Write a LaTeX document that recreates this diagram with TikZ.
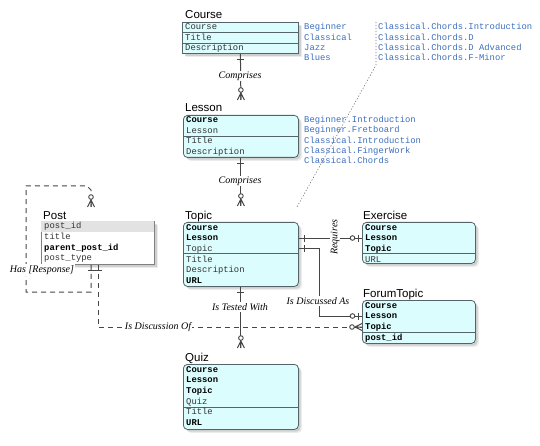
\documentclass[tikz,border=0pt]{standalone}
\usepackage{fontspec}
\setmainfont{Liberation Serif}
\newfontfamily\ttlfont{Liberation Sans}
\newfontfamily\monofont{Liberation Mono}
\usetikzlibrary{shadows,calc}
\definecolor{boxfill}{RGB}{220,253,253}
\definecolor{boxline}{RGB}{85,100,105}
\definecolor{linkc}{RGB}{70,70,70}
\definecolor{bluet}{RGB}{60,110,190}
\definecolor{fieldc}{RGB}{50,50,50}
\definecolor{postrow}{RGB}{226,226,226}
\tikzset{
  ent/.style={draw=boxline, fill=boxfill, line width=0.8pt, rounded corners=4pt,
    anchor=north west, inner sep=0pt,
    drop shadow={shadow xshift=3.5pt, shadow yshift=-3.5pt, opacity=0.12, fill=black!60},
    drop shadow={shadow xshift=2.2pt, shadow yshift=-2.2pt, opacity=0.22, fill=black!60}},
  etitle/.style={font=\ttlfont\fontsize{11.5}{12}\selectfont, anchor=base west, inner sep=0pt},
  fld/.style={font=\monofont\fontsize{8.85}{9}\selectfont, anchor=base west, inner sep=0pt, text=fieldc},
  fldb/.style={font=\monofont\fontsize{8.85}{9}\selectfont\bfseries, anchor=base west, inner sep=0pt, text=black},
  blu/.style={font=\monofont\fontsize{8.85}{9}\selectfont, anchor=base west, inner sep=0pt, text=bluet},
  lbl/.style={font=\itshape\fontsize{10}{11}\selectfont, fill=white, inner sep=1pt},
  link/.style={draw=linkc, line width=1pt},
  dlink/.style={link, dash pattern=on 5pt off 4pt},
  sepline/.style={draw=boxline, line width=0.8pt},
  dotline/.style={draw=black!55, line width=0.6pt, dash pattern=on 1.2pt off 1.8pt},
  one/.pic={\draw[linkc, line width=1pt, solid] (-6,-3.5) -- (-6,3.5);},
  zone/.pic={\draw[linkc, line width=1pt, solid] (-4,-3.5) -- (-4,3.5);
             \draw[linkc, line width=0.9pt, fill=white, solid] (-9.5,0) circle (2.3pt);},
  zmany/.pic={\draw[linkc, line width=1pt, solid] (0,-3.5) -- (-7,0) -- (0,3.5) (-7,0) -- (0,0);
              \draw[linkc, line width=0.9pt, fill=white, solid] (-10,0) circle (2.3pt);}
}
\begin{document}
\begin{tikzpicture}[x=1pt,y=-1pt]
\useasboundingbox (0,0) rectangle (540,446);

% ---------- Course ----------
\node[ent, sharp corners, minimum width=116pt, minimum height=31pt] (course) at (182,22) {};
\node[etitle] (courseT) at (185,19) {Course};
\draw[sepline] (182,32) -- (298,32) (182,43) -- (298,43);
\node[fld] (c1) at (185,30) {Course};
\node[fld] (c2) at (185,40.5) {Title};
\node[fld] (c3) at (185,51) {Description};
\node[blu] (b1) at (304,30) {Beginner};
\node[blu] (b2) at (304,40.3) {Classical};
\node[blu] (b3) at (304,50.6) {Jazz};
\node[blu] (b4) at (304,60.9) {Blues};
\node[blu] (r1) at (378,30) {Classical.Chords.Introduction};
\node[blu] (r2) at (378,40.3) {Classical.Chords.D};
\node[blu] (r3) at (378,50.6) {Classical.Chords.D Advanced};
\node[blu] (r4) at (378,60.9) {Classical.Chords.F-Minor};

% ---------- Lesson ----------
\node[ent, minimum width=115pt, minimum height=42pt] (lesson) at (183,115) {};
\node[etitle] (lessonT) at (185,112) {Lesson};
\draw[sepline] (183,136) -- (298,136);
\node[fldb] (l1) at (186,123) {Course};
\node[fld] (l2) at (186,133.5) {Lesson};
\node[fld] (l3) at (186,144) {Title};
\node[fld] (l4) at (186,154.5) {Description};
\node[blu] (lb1) at (304,122.5) {Beginner.Introduction};
\node[blu] (lb2) at (304,132.8) {Beginner.Fretboard};
\node[blu] (lb3) at (304,143.1) {Classical.Introduction};
\node[blu] (lb4) at (304,153.4) {Classical.FingerWork};
\node[blu] (lb5) at (304,163.7) {Classical.Chords};

% ---------- Topic ----------
\node[ent, minimum width=115pt, minimum height=64pt] (topic) at (183,222) {};
\node[etitle] (topicT) at (185,219) {Topic};
\draw[sepline] (183,253) -- (298,253);
\node[fldb] (t1) at (186,230) {Course};
\node[fldb] (t2) at (186,240.7) {Lesson};
\node[fld] (t3) at (186,251.3) {Topic};
\node[fld] (t4) at (186,262) {Title};
\node[fld] (t5) at (186,272.6) {Description};
\node[fldb] (t6) at (186,283.3) {URL};

% ---------- Exercise ----------
\node[ent, minimum width=113pt, minimum height=41pt] (exercise) at (362,222) {};
\node[etitle] (exerciseT) at (363,219) {Exercise};
\draw[sepline] (362,253) -- (475,253);
\node[fldb] (e1) at (365,230) {Course};
\node[fldb] (e2) at (365,240.7) {Lesson};
\node[fldb] (e3) at (365,251.3) {Topic};
\node[fld] (e4) at (365,262) {URL};

% ---------- ForumTopic ----------
\node[ent, minimum width=113pt, minimum height=43pt] (forum) at (362,300) {};
\node[etitle] (forumT) at (363,297) {ForumTopic};
\draw[sepline] (362,332) -- (475,332);
\node[fldb] (f1) at (365,308) {Course};
\node[fldb] (f2) at (365,318.7) {Lesson};
\node[fldb] (f3) at (365,329.3) {Topic};
\node[fldb] (f4) at (365,340) {post\_id};

% ---------- Quiz ----------
\node[ent, minimum width=115pt, minimum height=65pt] (quiz) at (183,364) {};
\node[etitle] (quizT) at (185,361) {Quiz};
\draw[sepline] (183,407) -- (298,407);
\node[fldb] (q1) at (186,372) {Course};
\node[fldb] (q2) at (186,382.7) {Lesson};
\node[fldb] (q3) at (186,393.3) {Topic};
\node[fld] (q4) at (186,404) {Quiz};
\node[fld] (q5) at (186,414.6) {Title};
\node[fldb] (q6) at (186,425.3) {URL};

% ---------- Post ----------
\node[ent, sharp corners, draw=black!50, fill=white, minimum width=113pt, minimum height=43pt] (post) at (41,221) {};
\fill[postrow] (41.4,221.4) rectangle (153.6,231.5);
\node[etitle] (postT) at (43,219) {Post};
\node[fld] (p1) at (44,229) {post\_id};
\node[fld] (p2) at (44,239.6) {title};
\node[fldb] (p3) at (44,250.2) {parent\_post\_id};
\node[fld] (p4) at (44,260.8) {post\_type};

% ---------- coordinates ----------
\coordinate (lessonIn) at (lesson.north |- 0,100);
\coordinate (topicIn) at (topic.north |- 0,206);
\coordinate (quizIn) at (quiz.north |- 0,348);
\coordinate (reqA) at (topic.east |- 0,238);
\coordinate (reqB) at (exercise.west |- 0,238);
\coordinate (discA) at (topic.east |- 0,248);
\coordinate (discB) at (forum.west |- 0,316);
\coordinate (postA) at (post.south west -| 91,0);
\coordinate (postIn) at (91,207);
\coordinate (postB) at (post.south west -| 98,0);
\coordinate (forumIn) at (forum.west |- 0,327);
\coordinate (dotA) at (376,22);
\coordinate (dotB) at (376,65);
\coordinate (dotC) at (297,207);

% ---------- connectors ----------
\draw[link] (course.south) -- (lessonIn);
\path (course.south) pic[rotate=90] {one};
\path (lessonIn) pic[rotate=-90] {zmany};
\node[lbl] (lab1) at (240,76) {Comprises};

\draw[link] (lesson.south) -- (topicIn);
\path (lesson.south) pic[rotate=90] {one};
\path (topicIn) pic[rotate=-90] {zmany};
\node[lbl] (lab2) at (240,181) {Comprises};

\draw[dlink] (postB) -- (98,327) -- (forumIn);
\path (postB) pic[rotate=90] {one};
\path (forumIn) pic {zmany};

\draw[link] (topic.south) -- (quizIn);
\path (topic.south) pic[rotate=90] {one};
\path (quizIn) pic[rotate=-90] {zmany};
\node[lbl] (lab3) at (240,307) {Is Tested With};
\node[lbl] (lab4) at (158,327) {Is Discussion Of};

\draw[link] (reqA) -- (reqB);
\path (reqA) pic[rotate=180] {one};
\path (reqB) pic {zone};
\node[lbl, rotate=90] (lab5) at (335,237) {Requires};

\draw[link] (discA) -- (319,248) -- (319,316) -- (discB);
\path (discA) pic[rotate=180] {one};
\path (discB) pic {zone};
\node[lbl] (lab6) at (318,301) {Is Discussed As};

\draw[dlink] (postA) -- (91,292) -- (26,292) -- (26,186) -- (87,186) -- (91,190) -- (postIn);
\path (postA) pic[rotate=90] {one};
\path (postIn) pic[rotate=-90] {zmany};
\node[lbl] (lab7) at (42,270) {Has [Response]};

\draw[dotline] (dotA) -- (dotB) -- (dotC);
\end{tikzpicture}
\end{document}
